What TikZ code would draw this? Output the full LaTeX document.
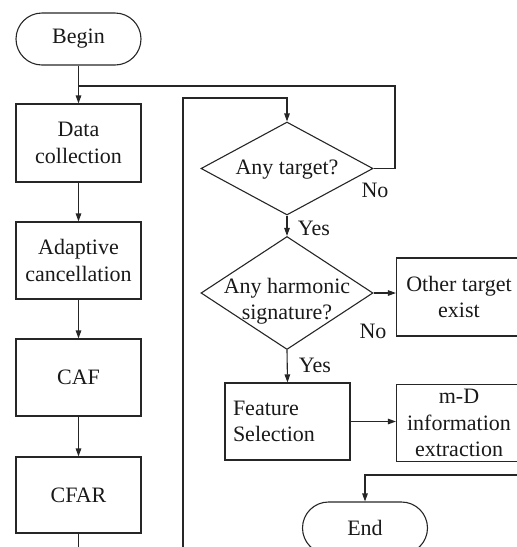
\documentclass[tikz,border=0pt]{standalone}
\usepackage{fontspec}
\setmainfont{Liberation Serif}
\usetikzlibrary{shapes.geometric,arrows.meta,calc}
\begin{document}
\begin{tikzpicture}[x=1pt,y=-1pt,
  every node/.style={font=\fontsize{22}{26.5}\selectfont, text=black!90},
  line/.style={draw=black!85, line width=1.1pt},
  arr/.style={line, -{Triangle[length=8pt,width=5.5pt]}},
  procbox/.style={draw=black!85, line width=1.1pt, minimum width=125pt, minimum height=77pt, align=center, inner sep=2pt},
  term/.style={draw=black!85, line width=1.1pt, rounded corners=26pt, minimum width=125pt, minimum height=52pt},
  decision/.style={diamond, draw=black!85, line width=1.1pt, minimum width=172pt, minimum height=93pt, inner sep=0pt},
  lbl/.style={inner sep=0pt}]
\useasboundingbox (0,0) rectangle (517,547);
\clip (0,0) rectangle (517,547);
% left column
\node[term] (begin) at (78.5,39) {Begin};
\node[procbox, minimum height=78pt] (data) at (78.5,143) {Data\\collection};
\node[procbox] (adapt) at (78.5,260.5) {Adaptive\\cancellation};
\node[procbox] (caf) at (78.5,377.5) {CAF};
\node[procbox, minimum height=76pt] (cfar) at (78.5,495) {CFAR};
% right part
\node[decision] (d1) at (287,168.5) {};
\node[lbl] (t1) at (287,170) {Any target?};
\node[decision, minimum height=113pt] (d2) at (287,293) {};
\node[lbl, align=center] (t2) at (287,301) {Any harmonic\\signature?};
\node[procbox, minimum height=78pt] (other) at (459,297) {Other target\\exist};
\node[procbox, minimum height=77pt, text width=109pt, align=left, inner xsep=8pt] (feat) at (287.5,421.5) {Feature\\Selection};
\node[procbox, minimum height=77pt, inner ysep=0pt] (md) at (459,423) {m-D\\information\\extraction};
\node[term] (end) at (365,528) {End};
% labels
\node[lbl] (no1) at (375,190) {No};
\node[lbl] (yes1) at (314,228) {Yes};
\node[lbl] (no2) at (373,331) {No};
\node[lbl] (yes2) at (315,365) {Yes};
% connectors
\coordinate (j0) at (78.5,86);
\coordinate (j1) at (395,86);
\coordinate (j2) at (395,168.5);
\draw[line] (begin.south) -- (j0);
\draw[arr] (j0) -- (data.north);
\draw[line] (j0) -- (j1) -- (j2) -- (d1.east);
\draw[arr] (data) -- (adapt);
\draw[arr] (adapt) -- (caf);
\draw[arr] (caf) -- (cfar);
\coordinate (cfarout) at (78.5,560);
\draw[line] (cfar.south) -- (cfarout);
\coordinate (l0) at (183,560);
\coordinate (l1) at (183,98);
\coordinate (l2) at (287,98);
\draw[arr] (l0) -- (l1) -- (l2) -- (d1.north);
\draw[arr] (d1.south) -- (d2.north);
\draw[arr] (d2.east) -- (d2.east -| other.west);
\draw[arr] (d2.south) -- (feat.north);
\draw[arr] (feat.east) -- (feat.east -| md.west);
\coordinate (e0) at (530,475);
\draw[arr] (e0) -- (end.north |- e0) -- (end.north);
\end{tikzpicture}
\end{document}
